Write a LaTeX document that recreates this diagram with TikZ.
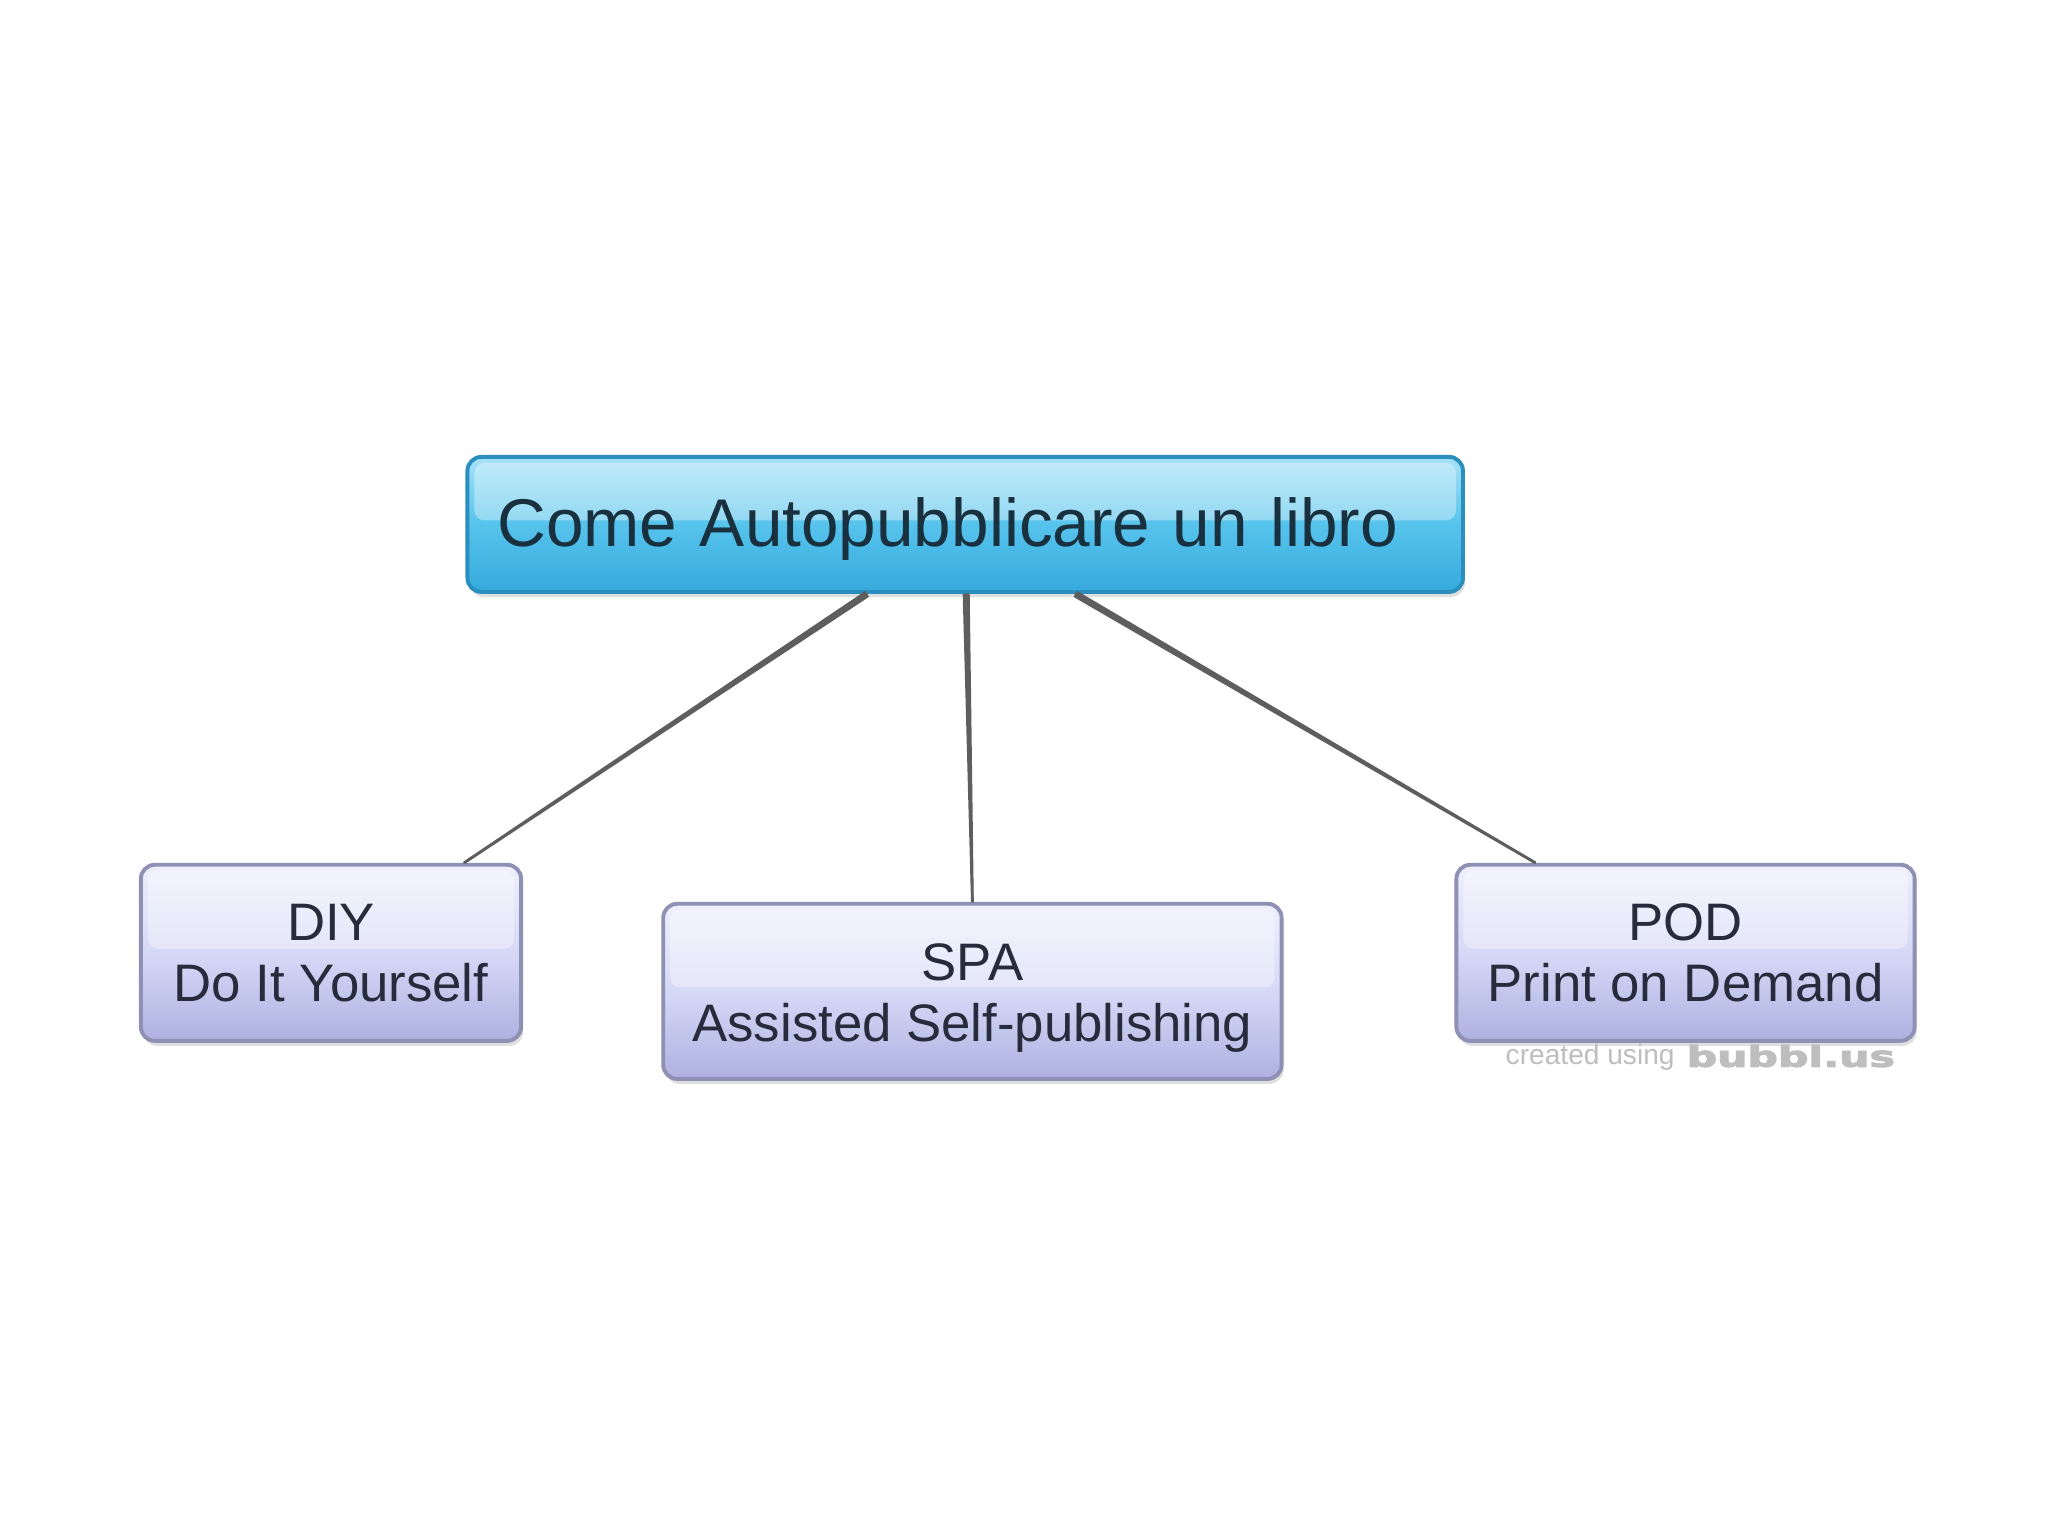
\documentclass[tikz,border=0pt]{standalone}
\usepackage{fontspec}
\usepackage{graphicx}
\setmainfont{Liberation Sans}
\newfontfamily\wmfont[BoldFeatures={FakeBold=3}]{DejaVu Sans}
\usetikzlibrary{shadows,calc}
\definecolor{roottop}{HTML}{A6E2F7}
\definecolor{rootmid}{HTML}{56C3EC}
\definecolor{rootbot}{HTML}{36AADC}
\definecolor{rootborder}{HTML}{2A8EBE}
\definecolor{roottext}{HTML}{19303F}
\definecolor{kidtop}{HTML}{EEF0FD}
\definecolor{kidmid}{HTML}{D6D9F6}
\definecolor{kidbot}{HTML}{AEB1E0}
\definecolor{kidborder}{HTML}{8E90B4}
\definecolor{kidtext}{HTML}{272B3C}
\definecolor{linkgray}{HTML}{5E5E5E}
\definecolor{wmgray}{HTML}{BEBEBE}
\begin{document}
\begin{tikzpicture}[x=0.01cm,y=-0.01cm,
  gloss/.style={path picture={
    \fill[white,opacity=0.35,rounded corners=0.1cm]
      ($(path picture bounding box.north west)+(0.07cm,-0.06cm)$) rectangle
      ($(path picture bounding box.east)+(-0.07cm,0.04cm)$);}},
  rootbox/.style={rounded corners=0.14cm, draw=rootborder, line width=1.1pt,
    top color=roottop, bottom color=rootbot, middle color=rootmid,
    minimum width=9.95cm, minimum height=1.35cm, text width=9.35cm,
    inner xsep=0.3cm, inner ysep=0pt, align=left,
    font=\fontsize{19.2}{23}\selectfont, text=roottext, gloss,
    drop shadow={shadow xshift=0.02cm, shadow yshift=-0.05cm, opacity=0.25}},
  kidbox/.style={rounded corners=0.14cm, draw=kidborder, line width=1.1pt,
    top color=kidtop, bottom color=kidbot, middle color=kidmid,
    minimum height=1.76cm, inner xsep=0pt, inner ysep=0pt, align=center,
    font=\fontsize{15}{17.3}\selectfont, text=kidtext, gloss,
    drop shadow={shadow xshift=0.02cm, shadow yshift=-0.05cm, opacity=0.25}},
  link/.style={draw=linkgray, line width=0.6pt, line cap=round},
  taper/.style={fill=linkgray},
  wm/.style={text=wmgray, inner sep=0pt, anchor=west}]
\useasboundingbox (0,0) rectangle (2048,1535);
\fill[white] (0,0) rectangle (2048,1535);

\node[rootbox] (root) at (965.2,524.4) {\rule{0pt}{0.59cm}Come Autopubblicare un libro};
\node[kidbox, minimum width=3.80cm] (diy) at (331,952.8) {DIY\\Do It Yourself};
\node[kidbox, minimum width=6.18cm, minimum height=1.75cm] (spa) at (972.4,991.3) {\rule{0pt}{0.5cm}SPA\\Assisted Self-publishing};
\node[kidbox, minimum width=4.58cm] (pod) at (1685.5,952.8) {POD\\Print on Demand};

\coordinate (r1) at ($(root.south)+(-0.98cm,0)$);
\coordinate (r2) at ($(root.south)+(0.01cm,0)$);
\coordinate (r3) at ($(root.south)+(1.10cm,0)$);
\coordinate (c1) at ($(diy.north)+(1.33cm,0)$);
\coordinate (c2) at (spa.north);
\coordinate (c3) at ($(pod.north)+(-1.50cm,0)$);
\foreach \r/\c in {r1/c1, r2/c2, r3/c3}{
  \fill[taper] ($(\r)!1pt!90:(\c)$) -- ($(\r)!1pt!-90:(\c)$)
    -- ($(\c)!0.4pt!90:(\r)$) -- ($(\c)!0.4pt!-90:(\r)$) -- cycle;
}
\draw[link] (r1) -- (c1);
\draw[link] (r2) -- (c2);
\draw[link] (r3) -- (c3);

\node[wm, font=\fontsize{8}{9}\selectfont] (wm1) at (1505,1057) {created using};
\node[wm] (wm2) at (1686,1056) {\resizebox{2.08cm}{0.22cm}{\wmfont\bfseries bubbl.us}};
\end{tikzpicture}
\end{document}
